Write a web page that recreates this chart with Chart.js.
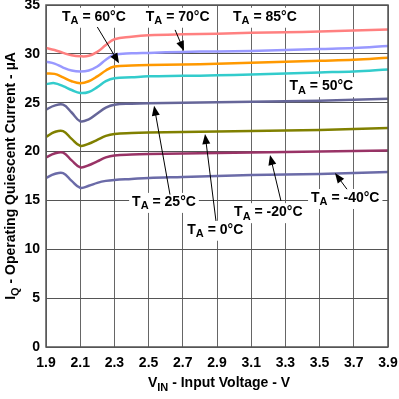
<!DOCTYPE html>
<html>
<head>
<meta charset="utf-8">
<script src="https://cdn.jsdelivr.net/npm/chart.js@4.4.0/dist/chart.umd.min.js"></script>
<style>
  html, body { margin: 0; padding: 0; background: #fff; }
</style>
</head>
<body>
<canvas id="iqChart" width="399" height="399"></canvas>
<script>
// Input voltage (V) sample points, shared by every curve
const vin = [1.9, 1.95, 2.0, 2.05, 2.1, 2.15, 2.2, 2.25, 2.3, 2.4, 2.5, 2.7, 2.9, 3.1, 3.3, 3.5, 3.7, 3.9];

// Quiescent current (uA) per temperature
const iq85 = [30.6, 30.4, 30.1, 29.85, 29.75, 29.8, 30.2, 30.9, 31.5, 31.75, 31.9, 32.0, 32.05, 32.15, 32.2, 32.3, 32.4, 32.5];
const iq70 = [29.2, 29.0, 28.6, 28.3, 28.2, 28.3, 28.7, 29.4, 29.9, 30.05, 30.1, 30.2, 30.25, 30.3, 30.4, 30.5, 30.6, 30.8];
const iq60 = [28.0, 27.95, 27.6, 27.2, 27.0, 27.2, 27.7, 28.3, 28.7, 28.8, 28.85, 28.9, 29.0, 29.1, 29.2, 29.3, 29.4, 29.6];
const iq50 = [26.9, 27.0, 26.7, 26.3, 26.0, 26.1, 26.6, 27.2, 27.5, 27.6, 27.7, 27.75, 27.8, 27.9, 28.0, 28.1, 28.2, 28.4];
const iq25 = [24.3, 24.7, 24.8, 24.0, 23.1, 23.3, 23.9, 24.5, 24.8, 24.9, 24.95, 25.0, 25.05, 25.1, 25.15, 25.2, 25.3, 25.4];
const iq0 = [21.5, 22.0, 22.1, 21.3, 20.6, 20.8, 21.2, 21.6, 21.8, 21.9, 21.95, 22.0, 22.05, 22.1, 22.15, 22.2, 22.3, 22.4];
const iqm20 = [19.4, 19.8, 19.9, 19.1, 18.4, 18.6, 19.0, 19.4, 19.6, 19.7, 19.75, 19.8, 19.85, 19.9, 19.95, 20.0, 20.05, 20.1];
const iqm40 = [17.3, 17.7, 17.8, 17.0, 16.3, 16.5, 16.8, 17.0, 17.1, 17.2, 17.3, 17.4, 17.5, 17.6, 17.65, 17.7, 17.8, 17.9];

// Axis ticks
const xTicks = [1.9, 2.1, 2.3, 2.5, 2.7, 2.9, 3.1, 3.3, 3.5, 3.7, 3.9];
const yTicks = [0, 5, 10, 15, 20, 25, 30, 35];

// Temperature callouts: label spot and arrow (in data units)
const tempLabels = ['60', '70', '85', '50', '25', '0', '-20', '-40'];
const labelAt = [[2.18, 33.8], [2.67, 33.8], [3.18, 33.8], [3.51, 26.7], [2.59, 14.85], [2.89, 12.0], [3.2, 13.8], [3.65, 15.25]];
const arrowFrom = [[2.2, 32.75], [2.655, 32.45], null, null, [2.625, 15.6], [2.894, 12.9], [3.274, 14.95], [3.66, 16.15]];
const arrowTo = [[2.327, 29.05], [2.707, 30.3], null, null, [2.532, 24.7], [2.83, 21.8], [3.21, 19.65], [3.59, 17.8]];

const FONT = '"Liberation Sans", Arial, sans-serif';

const series = [
  { data: iq85, color: '#ff8080' },
  { data: iq70, color: '#9999ff' },
  { data: iq60, color: '#ff9900' },
  { data: iq50, color: '#33cccc' },
  { data: iq25, color: '#666699' },
  { data: iq0, color: '#808000' },
  { data: iqm20, color: '#993366' },
  { data: iqm40, color: '#6b6ba8' },
];

// draws "base" + subscript + rest, centred on (cx, cy)
const drawSubText = (ctx, cx, cy, base, sub, rest, size, bg) => {
  const big = `bold ${size}px ${FONT}`;
  const small = `bold ${Math.round(size * 0.8)}px ${FONT}`;
  ctx.font = big;
  const wb = ctx.measureText(base).width;
  const wr = ctx.measureText(rest).width;
  ctx.font = small;
  const ws = ctx.measureText(sub).width;
  const total = wb + ws + wr;
  let x = cx - total / 2;
  if (bg) {
    ctx.fillStyle = '#fff';
    ctx.fillRect(x - 3, cy - size / 2 - 2, total + 6, size + 6);
  }
  ctx.fillStyle = '#000';
  ctx.textBaseline = 'middle';
  ctx.textAlign = 'left';
  ctx.font = big;
  ctx.fillText(base, x, cy);
  x += wb;
  ctx.font = small;
  ctx.fillText(sub, x, cy + size * 0.32);
  x += ws;
  ctx.font = big;
  ctx.fillText(rest, x, cy);
};

const drawArrow = (ctx, x1, y1, x2, y2) => {
  const ang = Math.atan2(y2 - y1, x2 - x1);
  const len = 10;
  const half = 4;
  ctx.strokeStyle = '#000';
  ctx.lineWidth = 1;
  ctx.beginPath();
  ctx.moveTo(x1, y1);
  ctx.lineTo(x2 - Math.cos(ang) * len * 0.8, y2 - Math.sin(ang) * len * 0.8);
  ctx.stroke();
  ctx.fillStyle = '#000';
  ctx.beginPath();
  ctx.moveTo(x2, y2);
  ctx.lineTo(x2 - Math.cos(ang) * len + Math.sin(ang) * half, y2 - Math.sin(ang) * len - Math.cos(ang) * half);
  ctx.lineTo(x2 - Math.cos(ang) * len - Math.sin(ang) * half, y2 - Math.sin(ang) * len + Math.cos(ang) * half);
  ctx.closePath();
  ctx.fill();
};

const annotations = {
  id: 'annotations',
  afterDatasetsDraw(chart) {
    const { ctx, scales: { x, y }, chartArea } = chart;
    ctx.save();
    tempLabels.forEach((t, i) => {
      const px = x.getPixelForValue(labelAt[i][0]);
      const py = y.getPixelForValue(labelAt[i][1]);
      drawSubText(ctx, px, py, 'T', 'A', ` = ${t}\u00B0C`, 14, true);
    });
    tempLabels.forEach((t, i) => {
      if (!arrowFrom[i]) return;
      drawArrow(
        ctx,
        x.getPixelForValue(arrowFrom[i][0]), y.getPixelForValue(arrowFrom[i][1]),
        x.getPixelForValue(arrowTo[i][0]), y.getPixelForValue(arrowTo[i][1])
      );
    });

    // axis titles
    drawSubText(ctx, (chartArea.left + chartArea.right) / 2 + 2, 383, 'V', 'IN', ' - Input Voltage - V', 14, false);
    ctx.translate(11, (chartArea.top + chartArea.bottom) / 2);
    ctx.rotate(-Math.PI / 2);
    drawSubText(ctx, 0, 0, 'I', 'Q', ' - Operating Quiescent Current - \u00B5A', 14, false);
    ctx.restore();
  },
};

const plotBorder = {
  id: 'plotBorder',
  afterDraw(chart) {
    const { ctx, chartArea: a } = chart;
    ctx.save();
    ctx.strokeStyle = '#555';
    ctx.lineWidth = 1.5;
    ctx.strokeRect(a.left, a.top, a.right - a.left, a.bottom - a.top);
    ctx.restore();
  },
};

new Chart(document.getElementById('iqChart').getContext('2d'), {
  type: 'line',
  data: {
    datasets: series.map(s => ({
      data: vin.map((v, i) => ({ x: v, y: s.data[i] })),
      borderColor: s.color,
      borderWidth: 2.5,
      pointRadius: 0,
      tension: 0.4,
      fill: false,
    })),
  },
  options: {
    responsive: false,
    animation: false,
    devicePixelRatio: 1,
    layout: { padding: { top: 5, right: 11, left: 0, bottom: 0 } },
    plugins: {
      legend: { display: false },
      tooltip: { enabled: false },
    },
    scales: {
      x: {
        type: 'linear',
        min: 1.9,
        max: 3.9,
        afterBuildTicks: scale => {
          scale.ticks = xTicks.map(v => ({ value: v }));
        },
        afterFit: scale => {
          scale.height = 52;
          scale.paddingLeft = 0;
          scale.paddingRight = 0;
        },
        grid: { color: '#666', lineWidth: 1, drawTicks: false },
        border: { display: false },
        ticks: {
          padding: 8,
          color: '#000',
          font: { family: FONT, weight: 'bold', size: 14 },
          callback: v => v.toFixed(1),
        },
      },
      y: {
        min: 0,
        max: 35,
        afterBuildTicks: scale => {
          scale.ticks = yTicks.map(v => ({ value: v }));
        },
        afterFit: scale => {
          scale.width = 46;
          scale.paddingTop = 0;
          scale.paddingBottom = 0;
        },
        grid: { color: '#555', lineWidth: 1, drawTicks: false },
        border: { display: false },
        ticks: {
          padding: 6,
          color: '#000',
          font: { family: FONT, weight: 'bold', size: 14 },
        },
      },
    },
  },
  plugins: [annotations, plotBorder],
});
</script>
</body>
</html>
